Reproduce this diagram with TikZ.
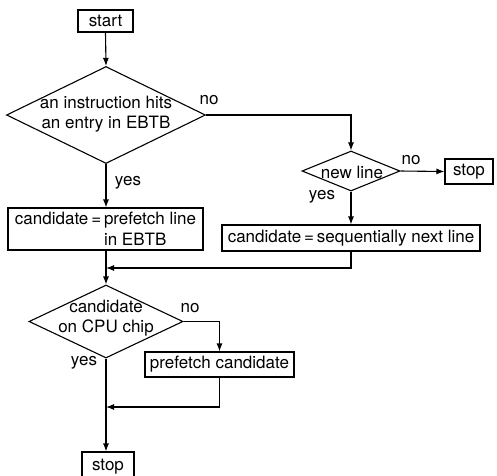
\documentclass[tikz,border=0pt]{standalone}
\usepackage{fontspec}
\setmainfont{TeX Gyre Heros}
\usetikzlibrary{shapes.geometric,arrows.meta}
\begin{document}
\begin{tikzpicture}[x=1pt,y=-1pt,
  every node/.style={font=\fontsize{17}{20.5}\selectfont, inner sep=0pt},
  box/.style={draw, line width=1.1pt, rectangle},
  dia/.style={draw, line width=1.1pt, diamond},
  lbl/.style={},
  conn/.style={line width=1.1pt},
  arr/.style={line width=1.1pt, -{Latex[length=8pt,width=6pt]}}]
\useasboundingbox (0,0) rectangle (497,475);
\clip (0,0) rectangle (497,475);
% nodes
\node[box, minimum width=55, minimum height=22] (start) at (105.5,21) {start};
\node[dia, minimum width=199, minimum height=97] (d1) at (106,115) {};
\node[align=center] (d1t) at (106,114) {an instruction hits\\an entry in EBTB};
\node[box, minimum width=195, minimum height=42, align=left] (b1) at (105.5,229) {candidate\,=\,prefetch line\\\phantom{candidate\,=\,}in EBTB};
\node[dia, minimum width=98, minimum height=40] (d2) at (351,171) {};
\node (d2t) at (352,172) {new line};
\node[box, minimum width=48, minimum height=25] (stop1) at (469,171.5) {stop};
\node[box, minimum width=258, minimum height=26] (b2) at (351,238) {candidate\,=\,sequentially next line};
\coordinate (j1) at (106,268);
\node[dia, minimum width=154, minimum height=73] (d3) at (106,321.5) {};
\node[align=center] (d3t) at (106,318) {candidate\\on CPU chip};
\node[box, minimum width=149, minimum height=25] (b3) at (219.5,364.5) {prefetch candidate};
\coordinate (j2) at (106,407);
\node[box, minimum width=52, minimum height=30] (stop2) at (108,467) {stop};
% labels
\node[lbl] (l1) at (209,100) {no};
\node[lbl] (l2) at (128,183) {yes};
\node[lbl] (l3) at (411,160) {no};
\node[lbl] (l4) at (322,197) {yes};
\node[lbl] (l5) at (190,308) {no};
\node[lbl] (l6) at (84,363) {yes};
% connectors
\draw[arr] (start.south) -- (d1.north);
\draw[arr] (d1.south) -- (b1.north -| d1.south);
\draw[arr] (d1.east) -| (d2.north);
\draw[arr] (d2.east) -- (stop1.west);
\draw[arr] (d2.south) -- (b2.north -| d2.south);
\draw[arr] (b1.south -| d1.south) -- (d3.north);
\draw[arr] (b2.south -| d2.south) |- (j1);
\draw[arr] (d3.east) -| (b3.north);
\draw[arr] (b3.south) |- (j2);
\draw[arr] (d3.south) -- (stop2.north -| d3.south);
\end{tikzpicture}
\end{document}
